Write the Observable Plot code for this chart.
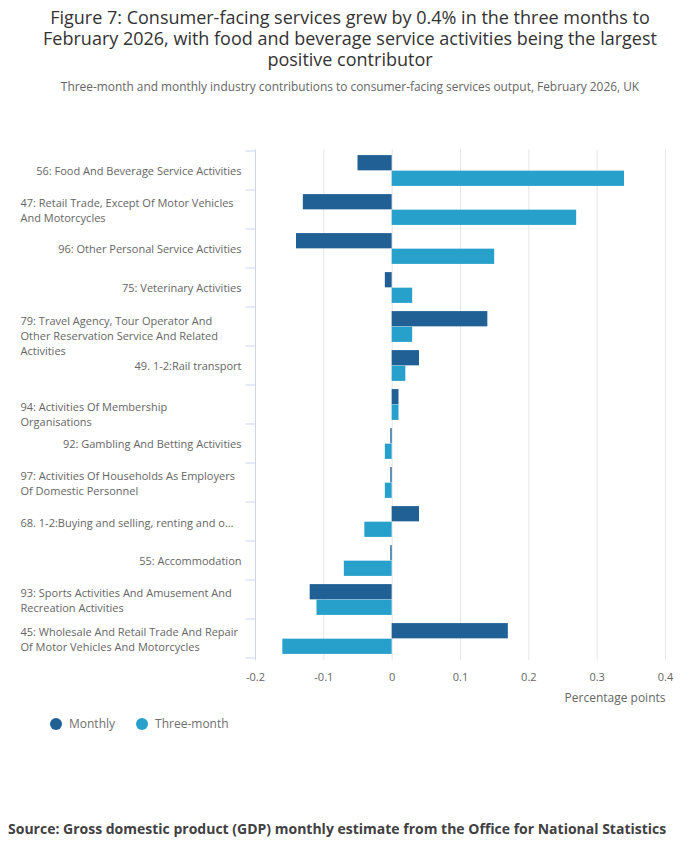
<!DOCTYPE html>
<html><head><meta charset="utf-8">
<script src="https://cdn.jsdelivr.net/npm/d3@7"></script>
<script src="https://cdn.jsdelivr.net/npm/@observablehq/plot@0.6"></script>
<style>
body{margin:0;background:#fff;font-family:"Open Sans",sans-serif;}
#wrap{position:relative;width:700px;height:857px;overflow:hidden;background:#fff}
#title{position:absolute;top:7px;left:35px;width:630px;text-align:center;font-size:18px;line-height:21px;color:#333}
#subtitle{position:absolute;top:78px;left:0;width:700px;text-align:center;font-size:11.9px;line-height:16px;color:#666}
#chart{position:absolute;top:100px;left:0}
#legend{position:absolute;top:715px;left:50px;font-size:12px;line-height:18px;color:#707070;display:flex;gap:0}
#legend .item{display:flex;align-items:center;margin-right:21px}
#legend .dot{width:12px;height:12px;border-radius:50%;margin-right:7px}
#source{position:absolute;top:819px;left:8px;font-size:14px;line-height:20px;font-weight:bold;color:#414042}
</style></head>
<body>
<div id="wrap">
  <div id="title">Figure 7: Consumer-facing services grew by 0.4% in the three months to February 2026, with food and beverage service activities being the largest positive contributor</div>
  <div id="subtitle">Three-month and monthly industry contributions to consumer-facing services output, February 2026, UK</div>
  <div id="chart"></div>
  <div id="legend"></div>
  <div id="source">Source: Gross domestic product (GDP) monthly estimate from the Office for National Statistics</div>
</div>
<script>
const categories = [
  "56: Food And Beverage Service Activities",
  "47: Retail Trade, Except Of Motor Vehicles And Motorcycles",
  "96: Other Personal Service Activities",
  "75: Veterinary Activities",
  "79: Travel Agency, Tour Operator And Other Reservation Service And Related Activities",
  "49. 1-2:Rail transport",
  "94: Activities Of Membership Organisations",
  "92: Gambling And Betting Activities",
  "97: Activities Of Households As Employers Of Domestic Personnel",
  "68. 1-2:Buying and selling, renting and operating of own or leased real estate",
  "55: Accommodation",
  "93: Sports Activities And Amusement And Recreation Activities",
  "45: Wholesale And Retail Trade And Repair Of Motor Vehicles And Motorcycles"
];
const tickLabels = [
  "56: Food And Beverage Service Activities",
  "47: Retail Trade, Except Of Motor Vehicles\nAnd Motorcycles",
  "96: Other Personal Service Activities",
  "75: Veterinary Activities",
  "79: Travel Agency, Tour Operator And\nOther Reservation Service And Related\nActivities",
  "49. 1-2:Rail transport",
  "94: Activities Of Membership\nOrganisations",
  "92: Gambling And Betting Activities",
  "97: Activities Of Households As Employers\nOf Domestic Personnel",
  "68. 1-2:Buying and selling, renting and o…",
  "55: Accommodation",
  "93: Sports Activities And Amusement And\nRecreation Activities",
  "45: Wholesale And Retail Trade And Repair\nOf Motor Vehicles And Motorcycles"
];
const monthly    = [-0.05, -0.13, -0.14, -0.01, 0.14, 0.04, 0.01, -0.002, -0.002, 0.04, -0.002, -0.12, 0.17];
const threeMonth = [ 0.34,  0.27,  0.15,  0.03, 0.03, 0.02, 0.01, -0.01, -0.01, -0.04, -0.07, -0.11, -0.16];
const seriesNames = ["Monthly", "Three-month"];
const seriesColors = ["#206095", "#27a0cc"];
const xTicks = [-0.2, -0.1, 0, 0.1, 0.2, 0.3, 0.4];
const xTitle = "Percentage points";

const data = categories.flatMap((c, i) => [
  {category: c, label: tickLabels[i], series: seriesNames[0], value: monthly[i]},
  {category: c, label: tickLabels[i], series: seriesNames[1], value: threeMonth[i]}
]);
const labels = categories.map((c, i) => ({category: c, label: tickLabels[i]}));
const isLeft = d => d.label.includes("\n") || d.label.endsWith("…");
const leftAligned = labels.filter(isLeft);
const rightAligned = labels.filter(d => !isLeft(d));

const W = 700, H = 610, mT = 49.3, mB = 49.7, mL = 255, mR = 35;
const bw = (H - mT - mB) / categories.length;
const outer = 4.1;
const half = bw / 2;

const chart = Plot.plot({
  width: W, height: H,
  marginTop: mT, marginBottom: mB, marginLeft: mL, marginRight: mR,
  style: {fontFamily: "Open Sans, sans-serif", fontSize: "11px", color: "#666", background: "#fff"},
  x: {domain: [xTicks[0], xTicks[xTicks.length - 1]], ticks: xTicks, tickFormat: d => String(d), label: null},
  y: {domain: categories, padding: 0, axis: null},
  color: {domain: seriesNames, range: seriesColors},
  marks: [
    Plot.gridX(xTicks.slice(1), {stroke: "#e6e6e6", strokeOpacity: 1, strokeWidth: 1}),
    Plot.axisX(xTicks, {tickSize: 0, tickPadding: 12, tickFormat: d => String(d), fill: "#666", fontSize: 11, label: null}),
    Plot.barX(data.filter(d => d.series === seriesNames[0]), {x: "value", y: "category", fill: "series", insetTop: outer, insetBottom: half}),
    Plot.barX(data.filter(d => d.series === seriesNames[1]), {x: "value", y: "category", fill: "series", insetTop: half, insetBottom: outer}),
    Plot.ruleX([xTicks[0]], {stroke: "#ccd6eb", strokeWidth: 1}),
    Plot.text(rightAligned, {y: "category", text: "label", frameAnchor: "left", textAnchor: "end", dx: -14, fill: "#666", fontSize: 11}),
    Plot.text(leftAligned, {y: "category", text: "label", frameAnchor: "left", textAnchor: "start", dx: -235, fill: "#666", fontSize: 11, lineHeight: 1.36}),
    Plot.text([xTitle], {frameAnchor: "bottom-right", textAnchor: "end", dy: 41, fill: "#666", fontSize: 12})
  ]
});

document.getElementById("chart").appendChild(chart);

// band-boundary tick marks on the category axis
const ys = chart.scale("y");
const svg = d3.select(chart);
const bounds = categories.map(c => ys.apply(c)).concat([ys.apply(categories[categories.length - 1]) + ys.bandwidth]);
svg.append("g").selectAll("line").data(bounds).join("line")
  .attr("x1", mL - 9.5).attr("x2", mL).attr("y1", d => d).attr("y2", d => d)
  .attr("stroke", "#ccd6eb").attr("stroke-width", 1);

// offset of two wrapped labels (as placed in the reference)
svg.selectAll("text").filter(function() {
  const t = this.textContent;
  return t.startsWith("79: Travel") || t.startsWith("94: Activities");
}).attr("transform", function() {
  const tr = this.getAttribute("transform") || "";
  return tr + " translate(0,8.5)";
});

// legend
const legend = d3.select("#legend");
seriesNames.forEach((s, i) => {
  const item = legend.append("div").attr("class", "item");
  item.append("div").attr("class", "dot").style("background", seriesColors[i]);
  item.append("span").text(s);
});
</script>
</body></html>
